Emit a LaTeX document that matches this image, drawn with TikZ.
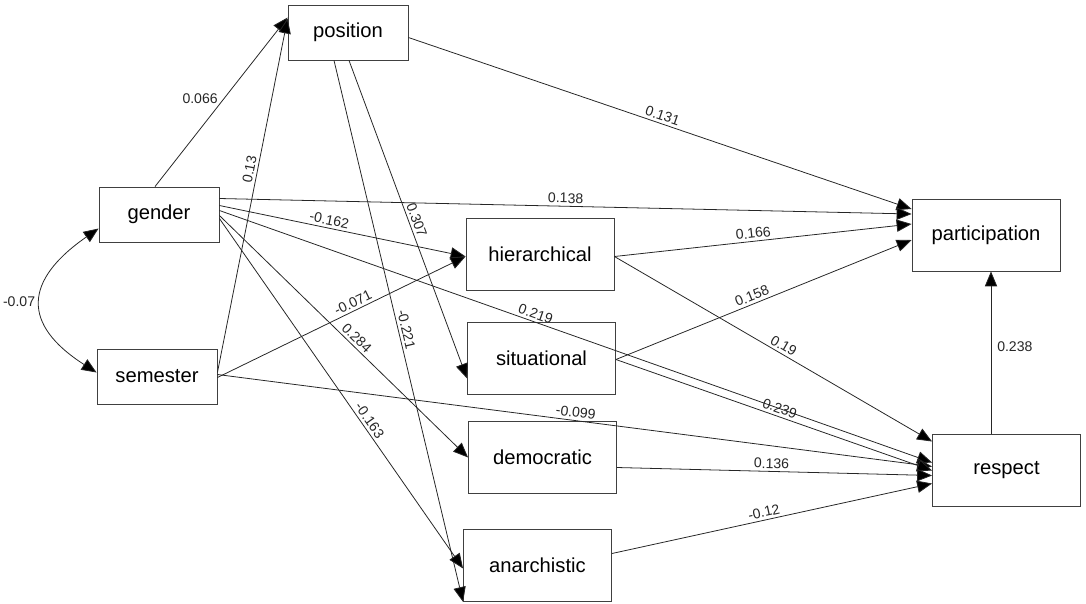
\documentclass[tikz,border=0pt]{standalone}
\usepackage{fontspec}
\setmainfont{Liberation Sans}
\usetikzlibrary{calc,arrows.meta}
\tikzset{
  box/.style={draw=black!75,line width=0.5pt,minimum width=2.4cm,minimum height=1.1cm,inner sep=0pt,font=\fontsize{11.5}{13}\selectfont},
  bigbox/.style={box,minimum width=2.96cm,minimum height=1.44cm},
  ar/.style={->,line width=0.45pt,black!85},
  wt/.style={font=\fontsize{8}{9.6}\selectfont,sloped,above,inner sep=1.5pt}
}

\begin{document}
\begin{tikzpicture}[x=0.02cm,y=-0.02cm,>={Triangle[length=8.5pt,width=7pt,fill=black]}]
\useasboundingbox (0,0) rectangle (1086,603);
% variables
\node[box] (position) at (348,32.5) {position};
\node[box] (gender) at (159,214.5) {gender};
\node[box] (semester) at (157,376.5) {semester};
\node[bigbox] (hier) at (540,254.5) {hierarchical};
\node[bigbox] (sit) at (541.5,358.5) {situational};
\node[bigbox] (dem) at (542.5,457.5) {democratic};
\node[bigbox] (anar) at (537.5,565.5) {anarchistic};
\node[bigbox] (part) at (986,235) {participation};
\node[bigbox] (resp) at (1006.5,470.5) {respect};
% paths into position
\draw[ar] ($(gender.north)+(-4,0)$) -- node[pos=0.52,left,font=\fontsize{8}{9.6}\selectfont] {0.066} ($(position.west)+(0,-15)$);
\draw[ar] ($(semester.east)+(0,-4)$) -- node[wt,pos=0.57] {0.13} ($(position.west)+(0,-14)$);
% paths from position
\draw[ar] ($(position.east)+(0,5)$) -- node[wt,pos=0.5] {0.131} ($(part.west)+(0,-26)$);
\draw[ar] ($(position.south)+(1,0)$) -- node[wt,pos=0.51] {0.307} ($(sit.west)+(0,20)$);
\draw[ar] ($(position.south)+(-14,0)$) -- node[wt,pos=0.5] {-0.221} (anar.south west);
% paths from gender
\draw[ar] ($(gender.east)+(0,-16)$) -- node[wt,pos=0.5] {0.138} ($(part.west)+(0,-21)$);
\draw[ar] ($(gender.east)+(0,-9)$) -- node[wt,pos=0.44] {-0.162} ($(hier.west)+(0,2)$);
\draw[ar] ($(gender.east)+(0,-4)$) -- node[wt,pos=0.44] {0.219} ($(resp.west)+(0,-8)$);
\draw[ar] ($(gender.east)+(0,1)$) -- node[wt,pos=0.53] {0.284} (dem.west);
\draw[ar] ($(gender.east)+(0,4)$) -- node[wt,pos=0.59] {-0.163} ($(anar.west)+(0,3)$);
% paths from semester
\draw[ar] ($(semester.east)+(0,1)$) -- node[wt,pos=0.56] {-0.071} ($(hier.west)+(0,2)$);
\draw[ar] ($(semester.east)+(0,-2)$) -- node[wt,pos=0.5] {-0.099} ($(resp.west)+(0,-4)$);
% styles to outcomes
\draw[ar] ($(hier.east)+(0,2)$) -- node[wt,pos=0.47] {0.166} ($(part.west)+(0,-11)$);
\draw[ar] ($(hier.east)+(0,2)$) -- node[wt,pos=0.52] {0.19} ($(resp.west)+(0,-29)$);
\draw[ar] ($(sit.east)+(0,1)$) -- node[wt,pos=0.47] {0.158} ($(part.west)+(0,5)$);
\draw[ar] ($(sit.east)+(0,1)$) -- node[wt,pos=0.51] {0.239} (resp.west);
\draw[ar] ($(dem.east)+(0,10)$) -- node[wt,pos=0.49] {0.136} ($(resp.west)+(0,5)$);
\draw[ar] ($(anar.east)+(0,-12)$) -- node[wt,pos=0.48] {-0.12} ($(resp.west)+(0,13)$);
\draw[ar] ($(resp.north)+(-15.5,0)$) -- node[pos=0.54,right,font=\fontsize{8}{9.6}\selectfont] {0.238} ($(part.south)+(5,0)$);
% covariance
\draw[ar,<->] ($(gender.west)+(0,14)$) .. controls ($(gender.west)+(-75,66)$) and ($(semester.west)+(-75,-52)$) .. node[pos=0.5,left,font=\fontsize{8}{9.6}\selectfont] {-0.07} ($(semester.west)+(0,-4)$);
\end{tikzpicture}
\end{document}
